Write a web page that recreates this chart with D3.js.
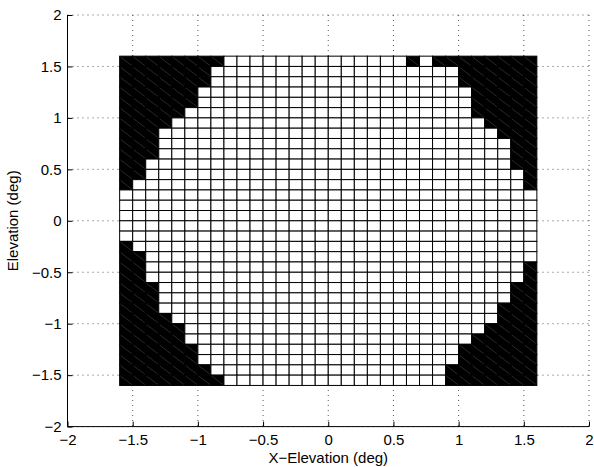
<!DOCTYPE html>
<html>
<head>
<meta charset="utf-8">
<script src="https://cdn.jsdelivr.net/npm/d3@7"></script>
<style>
	body { margin: 0; background: #fff; }
	svg { display: block; font-family: "Liberation Sans", Arial, Helvetica, sans-serif; }
</style>
</head>
<body>
<svg id="chart" width="594" height="467"></svg>
<script>

// axis ticks (deg)
var xTicks = [-2, -1.5, -1, -0.5, 0, 0.5, 1, 1.5, 2];
var yTicks = [-2, -1.5, -1, -0.5, 0, 0.5, 1, 1.5, 2];

// the sampled grid: 32 x 32 cells of 0.1 deg between -1.6 and 1.6
var gridMin = -1.6;
var gridStep = 0.1;
var gridCount = 32;

// masked (black) cells per row, top row first, counted from each side
var maskedLeft  = [8, 7, 7, 6, 6, 5, 4, 3, 3, 3, 2, 2, 1, 0, 0, 0, 0, 0, 1, 2, 2, 2, 3, 3, 3, 4, 5, 5, 6, 6, 7, 8];
var maskedRight = [8, 6, 6, 5, 5, 5, 4, 3, 2, 2, 2, 1, 1, 0, 0, 0, 0, 0, 0, 0, 1, 1, 2, 2, 3, 3, 4, 5, 6, 6, 7, 7];
// isolated masked cells [row, column]
var maskedExtra = [[0, 22]];

var svg = d3.select("#chart");

var margin = { left: 67.5, top: 15, right: 5, bottom: 40.4 };
var width = 594 - margin.left - margin.right;
var height = 467 - margin.top - margin.bottom;

var x = d3.scaleLinear().domain([-2, 2]).range([0, width]);
var y = d3.scaleLinear().domain([-2, 2]).range([height, 0]);

var g = svg.append("g")
	.attr("transform", "translate(" + margin.left + "," + margin.top + ")");

/**
 * dotted grid, drawn first so the cells hide it
 */
g.append("g").attr("class", "grid")
	.selectAll("line.vx")
	.data(xTicks)
	.enter()
	.append("line")
		.attr("x1", function(d) { return x(d); })
		.attr("x2", function(d) { return x(d); })
		.attr("y1", 0)
		.attr("y2", height);

g.select(".grid")
	.selectAll("line.hy")
	.data(yTicks)
	.enter()
	.append("line")
		.attr("x1", 0)
		.attr("x2", width)
		.attr("y1", function(d) { return y(d); })
		.attr("y2", function(d) { return y(d); });

g.selectAll(".grid line")
	.style("stroke", "#555")
	.style("stroke-width", 1)
	.style("stroke-dasharray", "1,4");

/**
 * build the cell list from the mask arrays
 */
var cells = [];
d3.range(gridCount).forEach(function(row)
{
	d3.range(gridCount).forEach(function(col)
	{
		var masked = col < maskedLeft[row] || col >= gridCount - maskedRight[row];
		maskedExtra.forEach(function(e)
		{
			if(e[0] === row && e[1] === col)
				masked = true;
		});

		var x0 = gridMin + col * gridStep;
		var y1 = -gridMin - row * gridStep;
		cells.push({ x0: x0, x1: x0 + gridStep, y0: y1 - gridStep, y1: y1, masked: masked });
	});
});

var cellG = g.append("g").attr("class", "cells");

cellG.selectAll(".cell")
	.data(cells)
	.enter()
	.append("rect")
		.attr("class", "cell")
		.attr("x", function(d) { return x(d.x0); })
		.attr("y", function(d) { return y(d.y1); })
		.attr("width", function(d) { return x(d.x1) - x(d.x0); })
		.attr("height", function(d) { return y(d.y0) - y(d.y1); })
		.style("fill", function(d) { return d.masked ? "#000" : "#fff"; })
		.style("stroke", "#000")
		.style("stroke-width", 1);

// faint seams across the black patches
cellG.selectAll(".seam")
	.data(cells.filter(function(d) { return d.masked; }))
	.enter()
	.append("line")
		.attr("class", "seam")
		.attr("x1", function(d) { return x(d.x0) + 1; })
		.attr("y1", function(d) { return y(d.y1) + 1; })
		.attr("x2", function(d) { return x(d.x1) - 1; })
		.attr("y2", function(d) { return y(d.y0) - 1; })
		.style("stroke", "#444")
		.style("stroke-width", 0.6);

/**
 * axes, ticks inward
 */
var xAxis = d3.axisBottom(x).tickValues(xTicks).tickSize(-5).tickPadding(8).tickFormat(d3.format(""));
var yAxis = d3.axisLeft(y).tickValues(yTicks).tickSize(-5).tickPadding(6).tickFormat(d3.format(""));

g.append("g")
	.attr("class", "x axis")
	.attr("transform", "translate(0," + height + ")")
	.call(xAxis);

g.append("g")
	.attr("class", "y axis")
	.call(yAxis);

g.selectAll(".axis .domain").remove();
g.selectAll(".axis text")
	.style("font-size", "15px")
	.style("fill", "#000");
g.selectAll(".axis line").style("stroke", "#000");

g.append("line")
	.attr("x1", 0).attr("x2", width)
	.attr("y1", height).attr("y2", height)
	.style("stroke", "#000");

g.append("line")
	.attr("x1", 0).attr("x2", 0)
	.attr("y1", 0).attr("y2", height)
	.style("stroke", "#000");

g.append("text")
	.attr("x", x(0))
	.attr("y", height + 36)
	.attr("text-anchor", "middle")
	.style("font-size", "15px")
	.text("X\u2212Elevation (deg)");

g.append("text")
	.attr("transform", "translate(" + (-50) + "," + y(0) + ") rotate(-90)")
	.attr("text-anchor", "middle")
	.style("font-size", "15px")
	.text("Elevation (deg)");

</script>
</body>
</html>
